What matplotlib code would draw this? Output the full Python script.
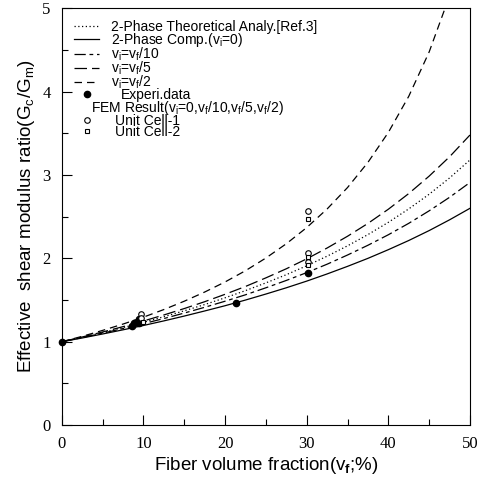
import matplotlib
matplotlib.use('Agg')
import matplotlib.pyplot as plt
from matplotlib.lines import Line2D
from matplotlib.ticker import MultipleLocator
from matplotlib.transforms import Affine2D

plt.rcParams['font.family'] = ['Liberation Sans', 'DejaVu Sans']
plt.rcParams['mathtext.fontset'] = 'custom'
plt.rcParams['mathtext.rm'] = 'Liberation Sans'
plt.rcParams['mathtext.it'] = 'Liberation Sans:italic'
plt.rcParams['mathtext.bf'] = 'Liberation Sans:bold'

# fiber volume fraction (%) and modulus ratios
vf = [0, 2.5, 5, 7.5, 10, 12.5, 15, 17.5, 20, 22.5, 25, 27.5, 30,
      32.5, 35, 37.5, 40, 42.5, 45, 47.5, 50]
theory = [1.0, 1.054, 1.11, 1.17, 1.233, 1.30, 1.371, 1.446, 1.527, 1.613, 1.706,
          1.804, 1.911, 2.026, 2.15, 2.285, 2.432, 2.593, 2.769, 2.964, 3.18]
comp_vi0 = [1.0, 1.045, 1.093, 1.143, 1.195, 1.25, 1.308, 1.369, 1.432, 1.50, 1.572,
            1.647, 1.727, 1.813, 1.904, 2.0, 2.104, 2.214, 2.333, 2.462, 2.6]
vi_10 = [1.0, 1.05, 1.103, 1.158, 1.217, 1.278, 1.344, 1.413, 1.486, 1.563, 1.647,
         1.735, 1.829, 1.93, 2.04, 2.157, 2.283, 2.42, 2.57, 2.732, 2.91]
vi_5 = [1.0, 1.057, 1.117, 1.181, 1.249, 1.321, 1.398, 1.48, 1.569, 1.663, 1.766,
        1.875, 1.994, 2.124, 2.265, 2.419, 2.589, 2.777, 2.986, 3.218, 3.479]
vf_half = [0, 2.5, 5, 7.5, 10, 12.5, 15, 17.5, 20, 22.5, 25, 27.5, 30,
           32.5, 35, 37.5, 40, 42.5, 45, 47.5]
vi_2 = [1.0, 1.065, 1.136, 1.212, 1.295, 1.386, 1.486, 1.596, 1.717, 1.852, 2.004,
        2.175, 2.369, 2.592, 2.849, 3.151, 3.51, 3.943, 4.475, 5.147]

exp_x = [0, 8.6, 8.8, 9.5, 9.5, 21.3, 30.2]
exp_y = [1.0, 1.19, 1.23, 1.22, 1.27, 1.47, 1.83]
cell1_x = [9.7, 9.7, 30.2, 30.2, 30.2]
cell1_y = [1.33, 1.28, 2.57, 2.07, 1.96]
cell2_x = [9.9, 30.2, 30.2, 30.2]
cell2_y = [1.24, 2.47, 2.02, 1.92]

fig = plt.figure(figsize=(4.83, 4.82), dpi=100)
ax = fig.add_axes([0.128, 0.118, 0.845, 0.865])

lw = 0.9
ax.plot(vf, theory, color='black', lw=lw, linestyle=(0, (1, 2)))
ax.plot(vf, comp_vi0, color='black', lw=lw, linestyle='-')
ax.plot(vf, vi_10, color='black', lw=lw, linestyle=(0, (9, 3, 3, 3)))
ax.plot(vf, vi_5, color='black', lw=lw, linestyle=(0, (10, 4)))
ax.plot(vf_half, vi_2, color='black', lw=lw, linestyle=(0, (6, 4)))
ax.plot(exp_x, exp_y, 'o', color='black', ms=4.5, clip_on=False)
ax.plot(cell1_x, cell1_y, 'o', mfc='white', mec='black', mew=0.8, ms=4)
ax.plot(cell2_x, cell2_y, 's', mfc='white', mec='black', mew=0.8, ms=3.5)

ax.set_xlim(0, 50)
ax.set_ylim(0, 5)
ax.xaxis.set_major_locator(MultipleLocator(10))
ax.xaxis.set_minor_locator(MultipleLocator(5))
ax.yaxis.set_major_locator(MultipleLocator(1))
ax.yaxis.set_minor_locator(MultipleLocator(0.5))
ax.tick_params(which='both', direction='in', top=False, right=False, width=0.8)
ax.tick_params(which='major', length=7, pad=8)
ax.tick_params(which='minor', length=4)
for lab in ax.get_xticklabels() + ax.get_yticklabels():
    lab.set_fontfamily('Liberation Serif')
    lab.set_fontsize(12)
for sp in ax.spines.values():
    sp.set_linewidth(0.8)

ax.set_xlabel(r'Fiber volume fraction(v$_\mathbf{f}$;%)', fontsize=13.5, labelpad=2)
ax.set_ylabel(r'Effective  shear modulus ratio(G$_\mathrm{c}$/G$_\mathrm{m}$)',
              fontsize=13.5, labelpad=4)

handles = [
    Line2D([], [], color='black', lw=lw, linestyle=(0, (1, 2))),
    Line2D([], [], color='black', lw=lw, linestyle='-'),
    Line2D([], [], color='black', lw=lw, linestyle=(0, (9, 3, 3, 3))),
    Line2D([], [], color='black', lw=lw, linestyle=(0, (10, 4))),
    Line2D([], [], color='black', lw=lw, linestyle=(0, (6, 4))),
    Line2D([], [], color='black', marker='o', ms=4.5, linestyle='none'),
    Line2D([], [], linestyle='none'),
    Line2D([], [], marker='o', mfc='white', mec='black', mew=0.8, ms=4, linestyle='none'),
    Line2D([], [], marker='s', mfc='white', mec='black', mew=0.8, ms=3.5, linestyle='none'),
]
labels = [
    '2-Phase Theoretical Analy.[Ref.3]',
    r'2-Phase Comp.(v$_\mathrm{i}$=0)',
    r'v$_\mathrm{i}$=v$_\mathrm{f}$/10',
    r'v$_\mathrm{i}$=v$_\mathrm{f}$/5',
    r'v$_\mathrm{i}$=v$_\mathrm{f}$/2',
    'Experi.data',
    r'FEM Result(v$_\mathrm{i}$=0,v$_\mathrm{f}$/10,v$_\mathrm{f}$/5,v$_\mathrm{f}$/2)',
    'Unit Cell-1',
    'Unit Cell-2',
]
leg = ax.legend(handles, labels, loc='upper left', bbox_to_anchor=(0.03, 0.972),
                frameon=False, fontsize=10, handlelength=1.8, handletextpad=0.85,
                labelspacing=-0.23, borderaxespad=0, borderpad=0)

# nudge a few legend texts sideways like in the original figure (pixels)
shifts = {5: 10, 6: -20, 7: 4, 8: 4}
texts = leg.get_texts()
for i, dx in shifts.items():
    t = texts[i]
    t.set_transform(t.get_transform() + Affine2D().translate(dx, 0))

fig.savefig('out.png', dpi=100)
